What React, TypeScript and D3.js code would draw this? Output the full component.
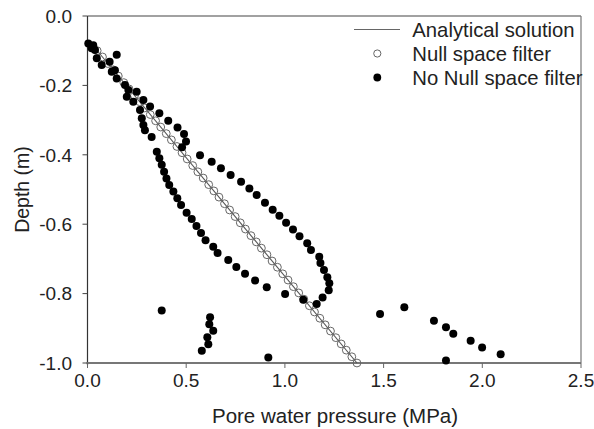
import React from "react";
import * as d3 from "d3";

// Analytical solution (line end points): pressure (MPa), depth (m)
const analyticalP = [0.02, 1.365];
const analyticalD = [-0.08, -1.0];

// Null space filter (open circles)
const nullD = [-0.100, -0.118, -0.137, -0.155, -0.173, -0.192, -0.210, -0.229, -0.247, -0.265,
  -0.284, -0.302, -0.320, -0.339, -0.357, -0.376, -0.394, -0.412, -0.431, -0.449,
  -0.467, -0.486, -0.504, -0.522, -0.541, -0.559, -0.578, -0.596, -0.614, -0.633,
  -0.651, -0.669, -0.688, -0.706, -0.724, -0.743, -0.761, -0.780, -0.798, -0.816,
  -0.835, -0.853, -0.871, -0.890, -0.908, -0.927, -0.945, -0.963, -0.982, -1.000];
const nullP = [0.049, 0.076, 0.103, 0.130, 0.156, 0.184, 0.210, 0.238, 0.264, 0.290,
  0.318, 0.345, 0.371, 0.399, 0.425, 0.453, 0.479, 0.505, 0.533, 0.559,
  0.586, 0.614, 0.640, 0.666, 0.694, 0.720, 0.748, 0.774, 0.800, 0.828,
  0.855, 0.881, 0.909, 0.935, 0.962, 0.989, 1.016, 1.043, 1.070, 1.096,
  1.124, 1.150, 1.177, 1.204, 1.231, 1.258, 1.285, 1.311, 1.339, 1.365];

// No Null space filter (filled dots)
const noNullP = [
  0.004, 0.029, 0.021, 0.038, 0.047, 0.072, 0.148, 0.112, 0.123, 0.139, 0.148, 0.190, 0.207, 0.199,
  0.249, 0.232, 0.283, 0.266, 0.317,
  0.275, 0.283, 0.291, 0.325, 0.351, 0.364, 0.376, 0.388, 0.400, 0.414, 0.435, 0.455, 0.474, 0.502,
  0.528, 0.552, 0.575, 0.598, 0.637, 0.659, 0.713, 0.754, 0.798, 0.849, 0.908, 1.001, 1.093, 1.161,
  0.364, 0.409, 0.456, 0.489, 0.499, 0.479, 0.570, 0.629, 0.676, 0.725, 0.778, 0.820, 0.857, 0.899,
  0.938, 0.972, 1.006, 1.041, 1.074, 1.113, 1.132, 1.174, 1.180, 1.198, 1.215, 1.225, 1.222, 1.191,
  0.376, 0.621, 0.617, 0.637, 0.607, 0.612, 0.579, 0.916,
  1.482, 1.605, 1.755, 1.816, 1.853, 1.941, 1.999, 2.093, 1.816];
const noNullD = [
  -0.079, -0.084, -0.093, -0.098, -0.122, -0.141, -0.112, -0.132, -0.161, -0.156, -0.180, -0.199, -0.213, -0.233,
  -0.218, -0.247, -0.242, -0.271, -0.261,
  -0.295, -0.314, -0.329, -0.349, -0.391, -0.410, -0.429, -0.449, -0.468, -0.487, -0.506, -0.525, -0.545, -0.567,
  -0.585, -0.605, -0.625, -0.646, -0.665, -0.683, -0.703, -0.723, -0.743, -0.762, -0.782, -0.801, -0.818, -0.830,
  -0.280, -0.302, -0.321, -0.340, -0.362, -0.378, -0.401, -0.420, -0.439, -0.458, -0.478, -0.497, -0.516, -0.538,
  -0.558, -0.576, -0.596, -0.615, -0.635, -0.655, -0.674, -0.694, -0.712, -0.732, -0.753, -0.770, -0.790, -0.811,
  -0.849, -0.868, -0.888, -0.907, -0.926, -0.946, -0.965, -0.984,
  -0.859, -0.839, -0.878, -0.897, -0.916, -0.936, -0.955, -0.975, -0.993];

const xTicks = [0, 0.5, 1.0, 1.5, 2.0, 2.5];
const yTicks = [0, -0.2, -0.4, -0.6, -0.8, -1.0];
const legendLabels = ["Analytical solution", "Null space filter", "No Null space filter"];
const xTitle = "Pore water pressure (MPa)";
const yTitle = "Depth (m)";

const W = 594;
const H = 429;
const L = 87.5, R = 581, T = 16, B = 363;
const FONT = "'Liberation Sans', Arial, sans-serif";

export default function App() {
  const x = d3.scaleLinear().domain([0, 2.5]).range([L, R]);
  const y = d3.scaleLinear().domain([-1, 0]).range([B, T]);
  const line = d3.line<number>().x((_, i) => x(analyticalP[i])).y((_, i) => y(analyticalD[i]));
  const fmt = (v: number) => d3.format(".1f")(v).replace("\u2212", "-");

  return (
    <svg width={W} height={H} style={{ position: "absolute", left: 0, top: 0, display: "block", background: "#fff" }}>
      <rect x={0} y={0} width={W} height={H} fill="#fff" />
      {/* frame */}
      <line x1={L} x2={R} y1={T} y2={T} stroke="#444" strokeWidth={1.2} />
      <line x1={R} x2={R} y1={T} y2={B} stroke="#777" strokeWidth={1.2} />
      <line x1={L} x2={L} y1={T} y2={B + 2} stroke="#333" strokeWidth={1.2} />
      <line x1={L - 1} x2={R} y1={B} y2={B} stroke="#777" strokeWidth={1.8} />

      {/* x ticks */}
      {xTicks.map((t) => (
        <g key={"x" + t}>
          <line x1={x(t)} x2={x(t)} y1={B} y2={B + 5} stroke="#666" strokeWidth={1} />
          <text x={x(t)} y={387} textAnchor="middle" fontFamily={FONT} fontSize={19} fill="#222">
            {fmt(t)}
          </text>
        </g>
      ))}
      {/* y ticks */}
      {yTicks.map((t) => (
        <g key={"y" + t}>
          <line x1={L - 5} x2={L} y1={y(t)} y2={y(t)} stroke="#444" strokeWidth={1} />
          <text x={72} y={y(t) + 6.7} textAnchor="end" fontFamily={FONT} fontSize={19} fill="#222">
            {fmt(t)}
          </text>
        </g>
      ))}

      {/* axis titles */}
      <text x={335} y={423} textAnchor="middle" fontFamily={FONT} fontSize={20.5} fill="#222">
        {xTitle}
      </text>
      <text transform={`translate(29, ${(T + B) / 2}) rotate(-90)`} textAnchor="middle" fontFamily={FONT} fontSize={19.5} fill="#222">
        {yTitle}
      </text>

      {/* data */}
      <path d={line(analyticalP) || ""} fill="none" stroke="#555" strokeWidth={1.1} />
      {nullP.map((p, i) => (
        <circle key={"n" + i} cx={x(p)} cy={y(nullD[i])} r={3.9} fill="none" stroke="#666" strokeWidth={1} />
      ))}
      {noNullP.map((p, i) => (
        <circle key={"f" + i} cx={x(p)} cy={y(noNullD[i])} r={4} fill="#000" />
      ))}

      {/* legend */}
      <line x1={354} x2={400} y1={29.5} y2={29.5} stroke="#666" strokeWidth={1.2} />
      <circle cx={377.3} cy={53.5} r={3.6} fill="none" stroke="#666" strokeWidth={1} />
      <circle cx={377.3} cy={77.5} r={3.9} fill="#000" />
      {legendLabels.map((lab, i) => (
        <text key={lab} x={412.3} y={36.5 + i * 24} fontFamily={FONT} fontSize={20.3} fill="#222">
          {lab}
        </text>
      ))}
    </svg>
  );
}
